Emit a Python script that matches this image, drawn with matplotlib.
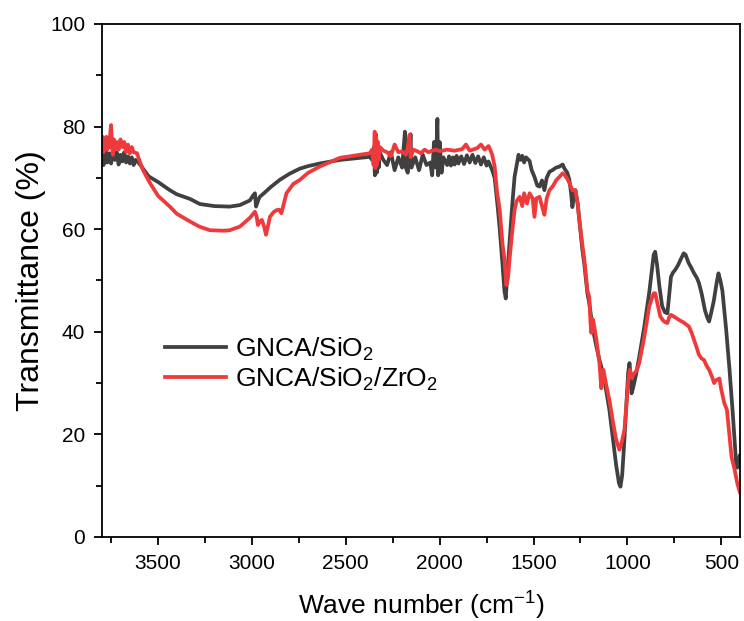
import matplotlib
matplotlib.use("Agg")
import matplotlib.pyplot as plt
from matplotlib.ticker import MultipleLocator

plt.rcParams['font.family'] = ['Liberation Sans', 'DejaVu Sans']
plt.rcParams['mathtext.fontset'] = 'custom'
plt.rcParams['mathtext.rm'] = 'Liberation Sans'

# ---- data ----
sio2_wn = [3800, 3790, 3780, 3770, 3760, 3750, 3740, 3730, 3720, 3710, 3700, 3690, 3680, 3670,
           3660, 3650, 3640, 3630, 3620, 3600, 3580, 3550, 3500, 3437, 3400, 3330, 3277, 3200,
           3118, 3064, 3011, 2995, 2984, 2978, 2965, 2958, 2930, 2900, 2852, 2800, 2745, 2700,
           2639, 2532, 2426, 2372, 2360, 2350, 2345, 2340, 2335, 2330, 2325, 2320, 2300, 2280,
           2260, 2240, 2220, 2200, 2190, 2185, 2180, 2170, 2160, 2155, 2150, 2130, 2110, 2090,
           2070, 2050, 2040, 2030, 2020, 2012, 2008, 2000, 1990, 1980, 1960, 1950, 1940, 1930,
           1920, 1910, 1900, 1885, 1870, 1855, 1840, 1825, 1810, 1795, 1780, 1765, 1750, 1740,
           1720, 1707, 1690, 1680, 1665, 1655, 1648, 1640, 1628, 1615,
           1601, 1590, 1580, 1570, 1560, 1550, 1540, 1521, 1510, 1495, 1480, 1468, 1455, 1442,
           1430, 1415, 1400, 1380, 1362, 1345, 1335, 1320, 1309, 1300, 1293, 1285, 1277, 1265,
           1256, 1240, 1229, 1213, 1203, 1190, 1181, 1165, 1149, 1139, 1120, 1096, 1075, 1060,
           1045, 1037, 1028, 1016, 1005, 996, 989, 983, 978, 970, 955, 937, 910, 884, 870, 860,
           852, 842, 830, 815, 800, 787, 778, 768, 758, 747, 730, 715, 700, 690, 675, 660, 645,
           630, 619, 605, 587, 575, 565, 555, 540, 525, 515, 505, 494, 474, 457, 439, 421, 415,
           408, 402]
sio2_t = [74.5, 72.5, 75.5, 73, 74.8, 72.8, 75.2, 73.5, 75, 72.6, 74.5, 73.2, 75, 73,
          74.2, 72.8, 74, 72.5, 73.5, 72.8, 71.8, 70.3, 69.2, 67.6, 66.8, 65.9, 64.9, 64.5,
          64.4, 64.7, 65.6, 66.5, 67, 64.4, 65.8, 66.3, 67.2, 68.2, 69.6, 70.8, 71.8, 72.3,
          72.8, 73.5, 73.9, 74.1, 73.5, 76, 70.5, 78.5, 71, 77, 72, 75, 73.5, 72.5,
          75, 71.5, 74, 72, 76.5, 79, 72, 71, 75, 78.5, 72, 74, 71.5, 74.5,
          72.5, 73, 70.5, 77, 72, 81.5, 70.5, 77, 71, 74, 72.5, 74.2, 72.4, 74, 72.6,
          74.3, 72.8, 74.2, 72.7, 74.4, 73, 74.5, 72.9, 74.2, 72.6, 74, 72.4, 73.2,
          71.5, 70, 64, 60, 53, 48, 46.5, 51, 57.3, 64,
          70.2, 72.5, 74.5, 73.5, 74.3, 73, 74, 73.3, 71.5, 70.2, 68.5, 68.3, 69.5, 67.6,
          70, 71.2, 71.5, 72, 72.2, 72.6, 71.8, 71, 69.6, 67, 64.3, 66.5, 67.6, 65,
          61.8, 56, 53, 47.5, 45.6, 42, 40, 37.1, 34.5, 33.2, 30, 24.8, 18.5, 14,
          10.5, 9.8, 12, 18.9, 26, 32, 33.9, 31.5, 28, 29, 31.5, 35.1, 41, 47.6, 52, 55,
          55.6, 53, 49, 45, 43.8, 43.6, 47, 50.7, 51.5, 52, 53, 54.2, 55.3, 55, 53.5, 52.5, 51.4,
          50.5, 49.5, 47.5, 44.2, 42.8, 42, 43.5, 46, 49.5, 51.4, 50, 48, 40.4, 33, 24.2, 14.4, 13.5,
          14.5, 15.8]

zro2_wn = [3800, 3795, 3790, 3785, 3780, 3775, 3770, 3765, 3760, 3755, 3750, 3745, 3740, 3735,
           3730, 3720, 3710, 3700, 3690, 3680, 3670, 3660, 3650, 3640, 3630, 3612, 3600, 3580,
           3543, 3500, 3437, 3400, 3330, 3280, 3224, 3150, 3118, 3064, 3011, 2984, 2975, 2968,
           2958, 2947, 2935, 2925, 2915, 2904, 2885, 2869, 2855, 2843, 2830, 2816, 2780, 2745,
           2700, 2639, 2532, 2426, 2372, 2360, 2352, 2346, 2342, 2338, 2334, 2330, 2325, 2318,
           2300, 2280, 2260, 2240, 2220, 2200, 2180, 2170, 2160, 2155, 2140, 2120, 2100, 2080,
           2060, 2040, 2020, 2000, 1960, 1920, 1880, 1860, 1840, 1800, 1780, 1760, 1740, 1734,
           1720, 1707, 1695, 1680, 1665, 1654, 1645, 1636, 1628, 1615, 1601, 1590, 1574, 1560,
           1550, 1535, 1521, 1505, 1495, 1485, 1468, 1455, 1442, 1430, 1415, 1395, 1380, 1362,
           1345, 1335, 1320, 1309, 1293, 1277, 1265, 1256, 1240, 1229, 1213, 1203, 1197, 1192,
           1186, 1181, 1172, 1165, 1149, 1143, 1139, 1133, 1128, 1112, 1096, 1075, 1060, 1043,
           1030, 1016, 1005, 994, 986, 980, 976, 965, 950, 937, 910, 884, 870, 860, 852, 840,
           825, 810, 800, 787, 778, 768, 745, 725, 700, 672, 658, 645, 630, 619, 605, 592, 580,
           565, 549, 538, 530, 510, 500, 484, 470, 457, 445, 431, 415, 402]
zro2_t = [76, 78, 75, 77.5, 76, 78, 75.5, 77, 76, 78.5, 80.3, 76, 74.5, 77.5,
          75.5, 77, 75.5, 77.5, 76, 77, 75, 76.5, 74.8, 76, 75, 74.8, 73.5, 71.5,
          69, 66.5, 64.4, 63, 61.5, 60.5, 59.8, 59.7, 59.8, 60.5, 62.2, 63.4, 62.5, 60.8,
          61.5, 61.8, 60.5, 58.9, 60.5, 62.4, 63.3, 63.7, 63.8, 63.1, 65, 67, 68.8, 69.6,
          71, 72.2, 73.9, 74.5, 74.8, 75.5, 72.5, 79, 71.9, 78, 72.5, 77, 73.5, 76,
          75.3, 75, 74.2, 76.5, 75, 75.2, 74.5, 76, 78.4, 74, 75.5, 75.2, 74.8, 75.5,
          75, 75.3, 75.5, 75.2, 75.5, 75.3, 75.6, 76.5, 75.3, 75.8, 76.5, 75.5, 76.2, 75.8,
          74.5, 72.2, 67.5, 63.7, 57, 54, 49.1, 50.5, 54, 59, 63.7, 65.5, 66.3, 64.5,
          67, 65, 67, 66, 62.4, 66, 66.3, 64.5, 62.8, 66, 67.6, 68.5, 69.5, 70.2,
          70.9, 70.6, 69.8, 69, 67.6, 67.6, 65, 61.8, 57, 54, 48, 46.8, 42, 39.8,
          42.5, 42, 40, 38.4, 33.9, 31, 29, 31.5, 32.6, 29.5, 26.7, 22, 19, 17,
          18.5, 20.9, 26, 31, 32.6, 31.5, 31, 31.8, 32.5, 33.9, 39, 44.9, 46.5, 47.5, 47.5, 45.5,
          43, 42.2, 41.9, 41.7, 42.8, 43.3, 42.8, 42.3, 41.8, 41, 39.8, 38.4, 36.8, 35.5, 34.8, 34.5, 33.5,
          32.6, 31.2, 30, 30.5, 30.9, 28.7, 26.1, 24.8, 20, 15.5, 13.5, 10.5, 8.8]

labels = ['GNCA/SiO$_2$', 'GNCA/SiO$_2$/ZrO$_2$']
colors = ['#404040', '#ef3a3c']
x_ticks = [3500, 3000, 2500, 2000, 1500, 1000, 500]
y_ticks = [0, 20, 40, 60, 80, 100]

fig = plt.figure(figsize=(7.44, 6.21), dpi=100)
ax = fig.add_axes([0.1367, 0.1353, 0.858, 0.8261])

ax.plot(sio2_wn, sio2_t, color=colors[0], lw=2.7, label=labels[0], solid_joinstyle='round')
ax.plot(zro2_wn, zro2_t, color=colors[1], lw=2.7, label=labels[1], solid_joinstyle='round')

ax.set_xlim(3800, 400)
ax.set_ylim(0, 100)
ax.set_xticks(x_ticks)
ax.set_yticks(y_ticks)
ax.xaxis.set_minor_locator(MultipleLocator(250))
ax.yaxis.set_minor_locator(MultipleLocator(10))
ax.tick_params(which='major', direction='out', length=6, width=1.3, labelsize=15, pad=6)
ax.tick_params(which='minor', direction='out', length=4, width=1.3)
for s in ax.spines.values():
    s.set_linewidth(1.3)

ax.set_xlabel('Wave number (cm$^{-1}$)', fontsize=19, labelpad=11)
ax.set_ylabel('Transmittance (%)', fontsize=23, labelpad=3)

leg = ax.legend(loc='upper left', bbox_to_anchor=(0.099, 0.393), frameon=False,
                fontsize=19, handlelength=2.3, handletextpad=0.35, borderpad=0,
                borderaxespad=0, labelspacing=0.1)

fig.savefig('out.png', dpi=100)
